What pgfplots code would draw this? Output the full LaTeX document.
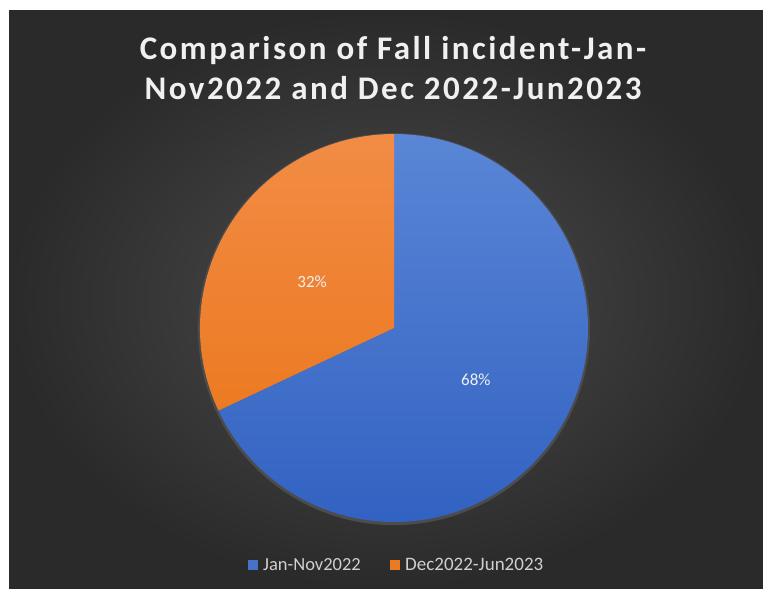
\documentclass[border=0pt]{standalone}
\usepackage{pgfplots}
\pgfplotsset{compat=1.18}
\usepackage{fontspec}
\setmainfont{Carlito}
\newfontfamily\titlefont[LetterSpace=7.5]{Carlito}
\definecolor{bgin}{HTML}{4C4C4C}
\definecolor{bgout}{HTML}{2A2A2A}
\definecolor{blueT}{HTML}{5A86D6}
\definecolor{blueB}{HTML}{3262C2}
\definecolor{oraT}{HTML}{F28C45}
\definecolor{oraB}{HTML}{EC7A22}
\definecolor{titlec}{HTML}{F0F0F0}
\definecolor{legc}{HTML}{D0D0D0}
\begin{document}
\begin{tikzpicture}
% page and background
\fill[white] (0pt,0pt) rectangle (763pt,589pt);
\shade[inner color=bgin, outer color=bgout] (9pt,0pt) rectangle (763pt,578pt);
% title
\node[anchor=base, text=titlec, font=\titlefont\fontsize{33}{40}\selectfont\bfseries] at (393pt,529pt) {Comparison of Fall incident-Jan-};
\node[anchor=base, text=titlec, font=\titlefont\fontsize{33}{40}\selectfont\bfseries] at (393pt,489pt) {Nov2022 and Dec 2022-Jun2023};
% pie
\begin{axis}[at={(394pt,261pt)}, anchor=center, x=194pt, y=194pt,
  xmin=-1, xmax=1, ymin=-1, ymax=1, hide axis, scale only axis, clip=false]
  \fill[black!70] (axis cs:0,-0.006) circle[radius=196pt];
  % values: Jan-Nov2022 = 68, Dec2022-Jun2023 = 32 (clockwise from 12 o'clock)
  \pgfmathsetmacro{\aA}{90}
  \pgfmathsetmacro{\aB}{90-68*3.6}
  \pgfmathsetmacro{\aC}{\aB-32*3.6}
  \shade[top color=blueT, bottom color=blueB] (axis cs:0,0) -- (axis cs:0,1) arc[start angle=\aA, end angle=\aB, radius=194pt] -- cycle;
  \shade[top color=oraT, bottom color=oraB] (axis cs:0,0) -- ({axis cs:{cos(\aB)},{sin(\aB)}}) arc[start angle=\aB, end angle=\aC, radius=194pt] -- cycle;
  \pgfmathsetmacro{\mA}{(\aA+\aB)/2}
  \pgfmathsetmacro{\mB}{(\aB+\aC)/2}
  \node[text=titlec, font=\fontsize{17}{19}\selectfont] at ({axis cs:{0.5*cos(\mA)},{0.5*sin(\mA)}}) {68\%};
  \node[text=titlec, font=\fontsize{17}{19}\selectfont] at ({axis cs:{0.5*cos(\mB)},{0.5*sin(\mB)-0.03}}) {32\%};
\end{axis}
% legend
\fill[blueB!90!white] (248pt,19pt) rectangle (258pt,29pt);
\node[anchor=base west, text=legc, inner sep=0, font=\fontsize{18.5}{20}\selectfont] at (263pt,18pt) {Jan-Nov2022};
\fill[oraB] (390pt,19pt) rectangle (400pt,29pt);
\node[anchor=base west, text=legc, inner sep=0, font=\fontsize{19}{20}\selectfont] at (405pt,18pt) {Dec2022-Jun2023};
\end{tikzpicture}
\end{document}
